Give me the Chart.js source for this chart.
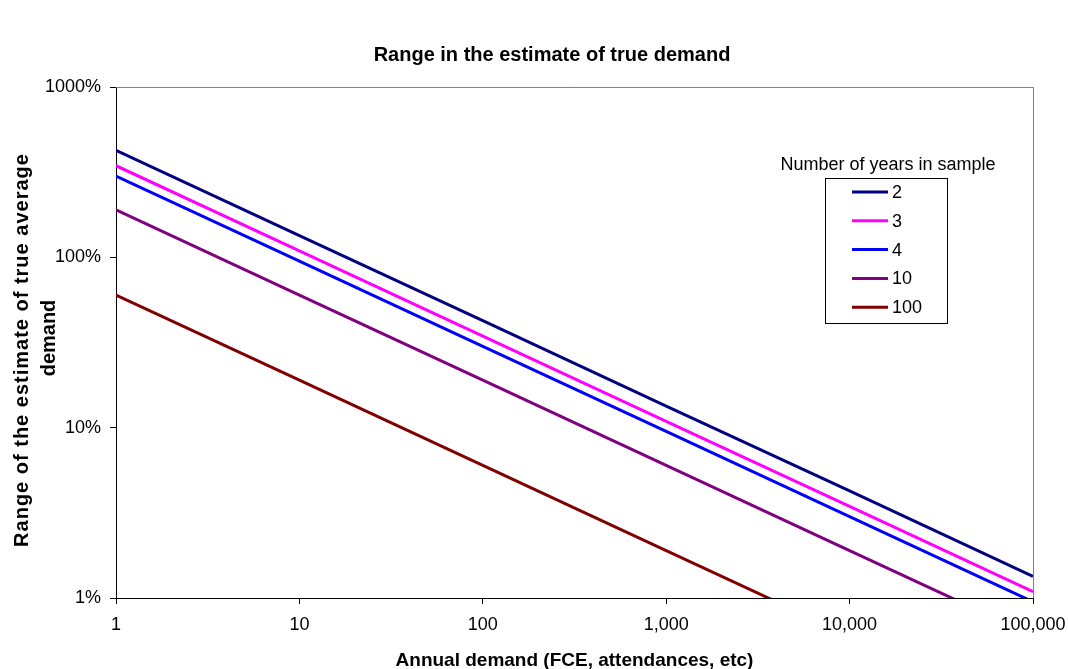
<!DOCTYPE html>
<html>
<head>
<meta charset="utf-8">
<script src="https://cdn.jsdelivr.net/npm/chart.js@4/dist/chart.umd.min.js"></script>
<style>
html,body{margin:0;padding:0;background:#fff}
#c{display:block}
</style>
</head>
<body>
<canvas id="c" width="1068" height="669"></canvas>
<script>
// annual demand (x) and range of the estimate (%) per decade
var demand   = [1, 10, 100, 1000, 10000, 100000];
var years2   = [425, 134, 42.5, 13.4, 4.25, 1.34];
var years3   = [345, 109, 34.5, 10.9, 3.45, 1.09];
var years4   = [300, 95, 30, 9.5, 3.0, 0.95];
var years10  = [190, 60, 19, 6.0, 1.9, 0.6];
var years100 = [60, 19, 6.0, 1.9, 0.6, 0.19];

var seriesNames  = ['2', '3', '4', '10', '100'];
var seriesValues = [years2, years3, years4, years10, years100];
var seriesColors = ['#000080', '#ff00ff', '#0000ff', '#800080', '#800000'];

var xTicks = [1, 10, 100, 1000, 10000, 100000];
var yTicks = [1, 10, 100, 1000];

var FONT = '"Liberation Sans", Arial, sans-serif';

var datasets = [];
for (var i = 0; i < seriesNames.length; i++) {
	var pts = [];
	for (var j = 0; j < demand.length; j++) {
		pts.push({x: demand[j], y: seriesValues[i][j]});
	}
	datasets.push({
		label: seriesNames[i],
		data: pts,
		borderColor: seriesColors[i],
		backgroundColor: seriesColors[i],
		borderWidth: 3,
		pointRadius: 0,
		fill: false,
		tension: 0
	});
}

// titles, grey plot frame and the boxed legend
var decor = {
	id: 'decor',
	beforeDatasetsDraw: function(chart) {
		var ctx = chart.ctx, a = chart.chartArea;
		ctx.save();
		ctx.strokeStyle = '#808080';
		ctx.lineWidth = 1;
		ctx.beginPath();
		ctx.moveTo(a.left, Math.round(a.top) + 0.5);
		ctx.lineTo(Math.round(a.right) + 0.5, Math.round(a.top) + 0.5);
		ctx.lineTo(Math.round(a.right) + 0.5, a.bottom);
		ctx.stroke();
		ctx.restore();
	},
	afterDraw: function(chart) {
		var ctx = chart.ctx, a = chart.chartArea;
		ctx.save();
		ctx.fillStyle = '#000';
		ctx.textAlign = 'center';
		ctx.textBaseline = 'middle';

		ctx.font = 'bold 20px ' + FONT;
		ctx.fillText('Range in the estimate of true demand', 552, 55);
		ctx.font = 'bold 19px ' + FONT;
		ctx.fillText('Annual demand (FCE, attendances, etc)', (a.left + a.right) / 2, 661);

		ctx.font = 'bold 20px ' + FONT;
		ctx.textBaseline = 'alphabetic';
		ctx.save();
		ctx.translate(0, 350);
		ctx.rotate(-Math.PI / 2);
		ctx.letterSpacing = '1px';
		ctx.fillText('Range of the estimate of true average', 0, 28);
		ctx.restore();
		ctx.save();
		ctx.translate(0, 338);
		ctx.rotate(-Math.PI / 2);
		ctx.fillText('demand', 0, 55);
		ctx.restore();

		// legend
		ctx.textBaseline = 'middle';
		ctx.font = '18px ' + FONT;
		ctx.fillText('Number of years in sample', 888, 165);
		ctx.strokeStyle = '#000';
		ctx.lineWidth = 1;
		ctx.strokeRect(825.5, 178.5, 122, 145);
		ctx.textAlign = 'left';
		chart.data.datasets.forEach(function(ds, k) {
			var y = 192 + k * 28.8;
			ctx.strokeStyle = ds.borderColor;
			ctx.lineWidth = 3;
			ctx.beginPath();
			ctx.moveTo(852, y);
			ctx.lineTo(888, y);
			ctx.stroke();
			ctx.fillText(ds.label, 892, y + 1);
		});
		ctx.restore();
	}
};

new Chart(document.getElementById('c'), {
	type: 'line',
	data: {datasets: datasets},
	plugins: [decor],
	options: {
		responsive: false,
		animation: false,
		layout: {padding: {top: 87, right: 35, left: 0, bottom: 0}},
		plugins: {legend: {display: false}, tooltip: {enabled: false}, title: {display: false}},
		scales: {
			x: {
				type: 'logarithmic',
				min: 1,
				max: 100000,
				afterBuildTicks: function(s) { s.ticks = xTicks.map(function(v) { return {value: v}; }); },
				afterFit: function(s) { s.height = 71; s.paddingLeft = 0; s.paddingRight = 0; },
				ticks: {
					color: '#000',
					font: {family: FONT, size: 18},
					maxRotation: 0,
					autoSkip: false,
					padding: 10,
					callback: function(v) { return Number(v).toLocaleString('en-US'); }
				},
				grid: {drawOnChartArea: false, drawTicks: true, tickLength: 6, color: '#000'},
				border: {color: '#000', width: 1}
			},
			y: {
				type: 'logarithmic',
				min: 1,
				max: 1000,
				afterBuildTicks: function(s) { s.ticks = yTicks.map(function(v) { return {value: v}; }); },
				afterFit: function(s) { s.width = 116; s.paddingTop = 0; s.paddingBottom = 0; },
				ticks: {
					color: '#000',
					font: {family: FONT, size: 18},
					padding: 9,
					callback: function(v) { return v + '%'; }
				},
				grid: {drawOnChartArea: false, drawTicks: true, tickLength: 6, color: '#000'},
				border: {color: '#000', width: 1}
			}
		}
	}
});
</script>
</body>
</html>
